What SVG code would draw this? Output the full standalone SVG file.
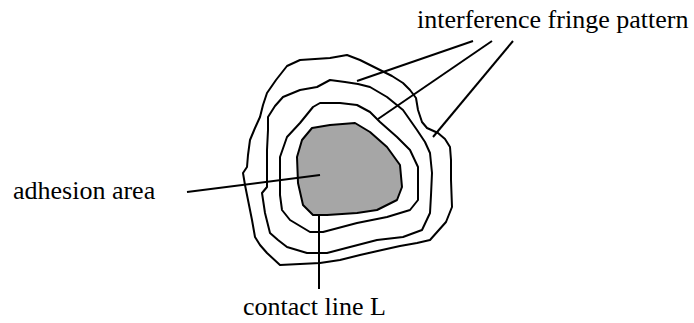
<svg xmlns="http://www.w3.org/2000/svg" width="694" height="323" viewBox="0 0 694 323">
<style>
.c{fill:none;stroke:#000;stroke-width:2;stroke-linejoin:round}
.g{fill:#a6a6a6;stroke:#000;stroke-width:2;stroke-linejoin:round}
.l{stroke:#000;stroke-width:2;fill:none}
text{font-family:"Liberation Serif","Times New Roman",serif;font-size:26px;fill:#000}
</style>
<rect width="694" height="323" fill="#fff"/>
<g id="fringe-outer"><polygon class="c" points="287,66 300,60 315,59 330,58 347,55 360,60 380,70 392,76 403,83 410,90 416,98 418,110 422,122 427,128 438,133 445,139 450,147 451,160 451,180 452,207 446,222 430,240 417,243 400,246 382,250 360,255 340,260 320,263 300,264 280,265 267,253 260,245 255,237 252,220 248,200 245,185 243,173 247,167 248,155 250,140 255,128 260,117 263,105 267,93 276,80"/></g>
<g id="fringe-2"><polygon class="c" points="300,90 317,87 330,80 345,82 358,84 370,87 387,97 403,110 410,120 417,130 425,142 430,153 432,173 431,195 430,213 422,230 403,237 377,240 350,247 327,253 307,253 287,247 278,240 270,233 265,213 262,193 267,187 267,168 267,150 268,130 268,117 275,106 283,97"/></g>
<g id="fringe-3"><polygon class="c" points="313,107 320,103 340,103 357,105 370,112 380,122 397,137 410,150 418,167 418,185 418,200 410,210 387,217 357,223 323,232 310,232 290,220 282,210 280,195 280,177 280,157 287,137 300,123"/></g>
<g id="adhesion-area"><polygon class="g" points="312,128 330,125 355,123 370,132 387,147 400,165 402,187 397,200 377,210 357,213 327,215 313,215 303,205 298,183 297,157 302,140"/></g>
<g id="connectors">
<line class="l" x1="187" y1="192" x2="320" y2="175"/>
<line class="l" x1="319" y1="215" x2="319" y2="289"/>
<line class="l" x1="473" y1="41" x2="357" y2="81"/>
<line class="l" x1="492" y1="41" x2="378" y2="119"/>
<line class="l" x1="513" y1="41" x2="433" y2="137"/>
</g>
<g id="labels">
<text x="417" y="28">interference fringe pattern</text>
<text x="13" y="199">adhesion area</text>
<text x="243" y="315">contact line L</text>
</g>
</svg>
